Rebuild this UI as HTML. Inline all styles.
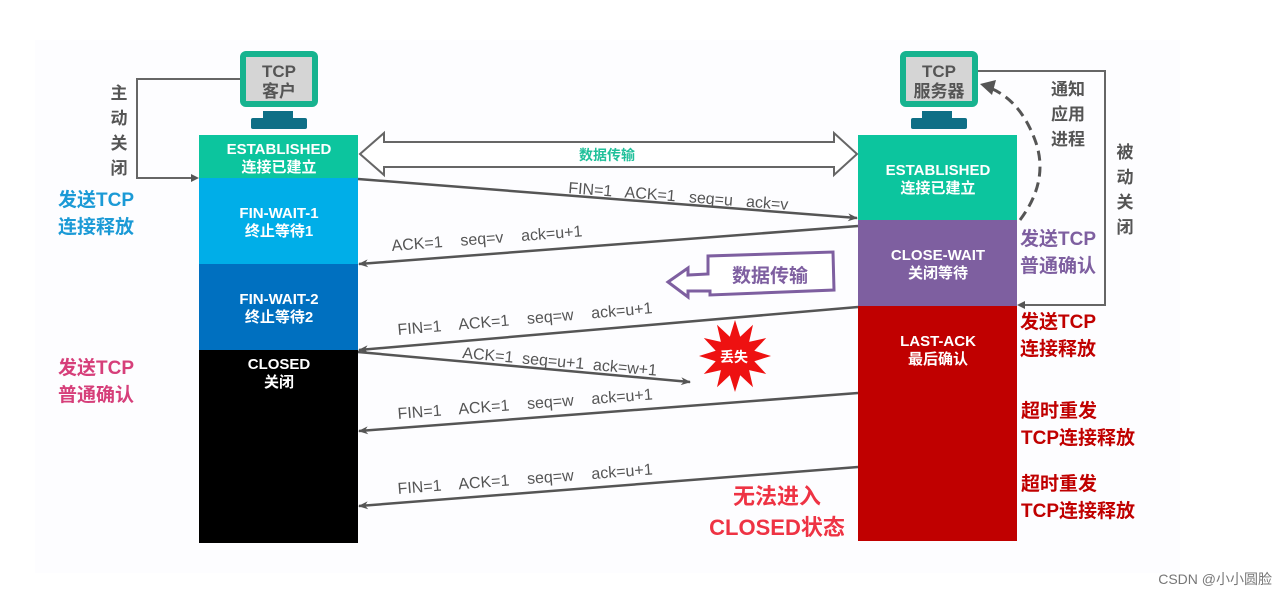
<!DOCTYPE html>
<html><head><meta charset="utf-8"><style>
html,body{margin:0;padding:0;background:#fff;}
svg{display:block;}
text{font-family:"Liberation Sans","Noto Sans CJK SC",sans-serif;}
.w{fill:#fff;font-weight:bold;font-size:15px;text-anchor:middle;}
.m{fill:#555;font-size:16px;}
.lb{font-weight:bold;font-size:19px;}
</style></head><body>
<svg width="1287" height="595" viewBox="0 0 1287 595" xmlns="http://www.w3.org/2000/svg">
<defs>
<marker id="ah" markerWidth="10" markerHeight="8" refX="9" refY="4" orient="auto" markerUnits="userSpaceOnUse">
<path d="M0,0 L10,4 L0,8 L3,4 Z" fill="#555"/></marker>
</defs>
<rect x="35" y="40" width="1145" height="533" fill="#fdfdff"/>
<rect x="240" y="51" width="78" height="56" rx="6" fill="#17b38f"/>
<rect x="246" y="57" width="66" height="44" fill="#d5d5d5"/>
<text x="279" y="77" text-anchor="middle" font-size="17" font-weight="bold" fill="#555">TCP</text>
<text x="279" y="97" text-anchor="middle" font-size="17" font-weight="bold" fill="#555">客户</text>
<rect x="263" y="111" width="30" height="8" fill="#0e6f86"/>
<rect x="251" y="118" width="56" height="11" rx="2" fill="#0e6f86"/>
<rect x="900" y="51" width="78" height="56" rx="6" fill="#17b38f"/>
<rect x="906" y="57" width="66" height="44" fill="#d5d5d5"/>
<text x="939" y="77" text-anchor="middle" font-size="17" font-weight="bold" fill="#555">TCP</text>
<text x="939" y="97" text-anchor="middle" font-size="17" font-weight="bold" fill="#555">服务器</text>
<rect x="922" y="111" width="30" height="8" fill="#0e6f86"/>
<rect x="911" y="118" width="56" height="11" rx="2" fill="#0e6f86"/>
<rect x="199" y="135" width="159" height="43" fill="#0cc59e"/>
<rect x="199" y="178" width="159" height="86" fill="#00aee8"/>
<rect x="199" y="264" width="159" height="86" fill="#0070c0"/>
<rect x="199" y="350" width="159" height="193" fill="#000"/>
<text class="w" x="279" y="154">ESTABLISHED</text><text class="w" x="279" y="172">连接已建立</text>
<text class="w" x="279" y="218">FIN-WAIT-1</text><text class="w" x="279" y="236">终止等待1</text>
<text class="w" x="279" y="304">FIN-WAIT-2</text><text class="w" x="279" y="322">终止等待2</text>
<text class="w" x="279" y="369">CLOSED</text><text class="w" x="279" y="387">关闭</text>
<rect x="858" y="135" width="159" height="85" fill="#0cc59e"/>
<rect x="858" y="220" width="159" height="86" fill="#7e5fa0"/>
<rect x="858" y="306" width="159" height="235" fill="#c00000"/>
<text class="w" x="938" y="175">ESTABLISHED</text><text class="w" x="938" y="193">连接已建立</text>
<text class="w" x="938" y="260">CLOSE-WAIT</text><text class="w" x="938" y="278">关闭等待</text>
<text class="w" x="938" y="346">LAST-ACK</text><text class="w" x="938" y="364">最后确认</text>
<polyline points="240,79 137,79 137,178 192,178" fill="none" stroke="#666" stroke-width="2"/>
<path d="M191,174 L199,178 L191,182 Z" fill="#555"/>
<g font-size="17" font-weight="bold" fill="#555" text-anchor="middle">
<text x="119" y="99">主</text><text x="119" y="124">动</text><text x="119" y="149">关</text><text x="119" y="174">闭</text>
<text x="1125" y="158">被</text><text x="1125" y="183">动</text><text x="1125" y="208">关</text><text x="1125" y="233">闭</text>
<text x="1068" y="95">通知</text><text x="1068" y="120">应用</text><text x="1068" y="145">进程</text>
</g>
<polyline points="978,71 1105,71 1105,305 1024,305" fill="none" stroke="#666" stroke-width="2"/>
<path d="M1025,301 L1017,305 L1025,309 Z" fill="#555"/>
<path d="M1020,220 Q1050,180 1035,140 Q1020,100 990,88" fill="none" stroke="#555" stroke-width="3" stroke-dasharray="10,6"/>
<path d="M980,84 L996,80 L992,95 Z" fill="#555"/>
<polygon points="360,154 384,133 384,142 834,142 834,133 857,154 834,175 834,167 384,167 384,175" fill="#fff" stroke="#666" stroke-width="2"/>
<text x="607" y="160" text-anchor="middle" font-size="14" font-weight="bold" fill="#20c09a">数据传输</text>
<g stroke="#555" stroke-width="2.5" fill="none" marker-end="url(#ah)">
<line x1="358" y1="179" x2="857" y2="218"/>
<line x1="858" y1="226" x2="359" y2="264"/>
<line x1="858" y1="307" x2="359" y2="350"/>
<line x1="358" y1="352" x2="690" y2="382"/>
<line x1="858" y1="393" x2="359" y2="431"/>
<line x1="858" y1="467" x2="359" y2="506"/>
</g>
<text class="m" transform="translate(568,193) rotate(4.4)" xml:space="preserve">FIN=1   ACK=1   seq=u   ack=v</text>
<text class="m" transform="translate(392,251) rotate(-4.4)" xml:space="preserve">ACK=1    seq=v    ack=u+1</text>
<text class="m" transform="translate(398,335) rotate(-4.9)" xml:space="preserve">FIN=1    ACK=1    seq=w    ack=u+1</text>
<text class="m" transform="translate(462,358) rotate(5.2)" xml:space="preserve">ACK=1  seq=u+1  ack=w+1</text>
<text class="m" transform="translate(398,419) rotate(-4.4)" xml:space="preserve">FIN=1    ACK=1    seq=w    ack=u+1</text>
<text class="m" transform="translate(398,494) rotate(-4.4)" xml:space="preserve">FIN=1    ACK=1    seq=w    ack=u+1</text>
<polygon fill="#ee1111" points="771,356 754.3,361.2 766.2,374 749.1,370.1 753,387.2 740.2,375.3 735,392 729.8,375.3 717,387.2 720.9,370.1 703.8,374 715.7,361.2 699,356 715.7,350.8 703.8,338 720.9,341.9 717,324.8 729.8,336.7 735,320 740.2,336.7 753,324.8 749.1,341.9 766.2,338 754.3,350.8"/>
<text x="734" y="362" text-anchor="middle" font-size="14" font-weight="bold" fill="#fff">丢失</text>
<polygon points="668,282 688,268 688,275 708,274 708,256 833,252 834,290 710,295 710,291 688,291 688,297" fill="#fff" stroke="#7e5fa0" stroke-width="3"/>
<text x="770" y="282" text-anchor="middle" font-size="19" font-weight="bold" fill="#7e5fa0">数据传输</text>
<g class="lb">
<text x="58" y="206" fill="#1b9ad6">发送TCP</text><text x="58" y="233" fill="#1b9ad6">连接释放</text>
<text x="58" y="374" fill="#d63f7a">发送TCP</text><text x="58" y="401" fill="#d63f7a">普通确认</text>
<text x="1020" y="245" fill="#7e5fa0">发送TCP</text><text x="1020" y="272" fill="#7e5fa0">普通确认</text>
<text x="1020" y="328" fill="#c00000">发送TCP</text><text x="1020" y="355" fill="#c00000">连接释放</text>
<text x="1021" y="417" fill="#c00000">超时重发</text><text x="1021" y="444" fill="#c00000">TCP连接释放</text>
<text x="1021" y="490" fill="#c00000">超时重发</text><text x="1021" y="517" fill="#c00000">TCP连接释放</text>
</g>
<g font-size="22" font-weight="bold" fill="#ee3344" text-anchor="middle" stroke="#fff" stroke-width="1" paint-order="stroke">
<text x="777" y="504">无法进入</text><text x="777" y="535">CLOSED状态</text>
</g>
<text x="1272" y="584" text-anchor="end" font-size="14" fill="#777">CSDN @小小圆脸</text>
</svg>
</body></html>
